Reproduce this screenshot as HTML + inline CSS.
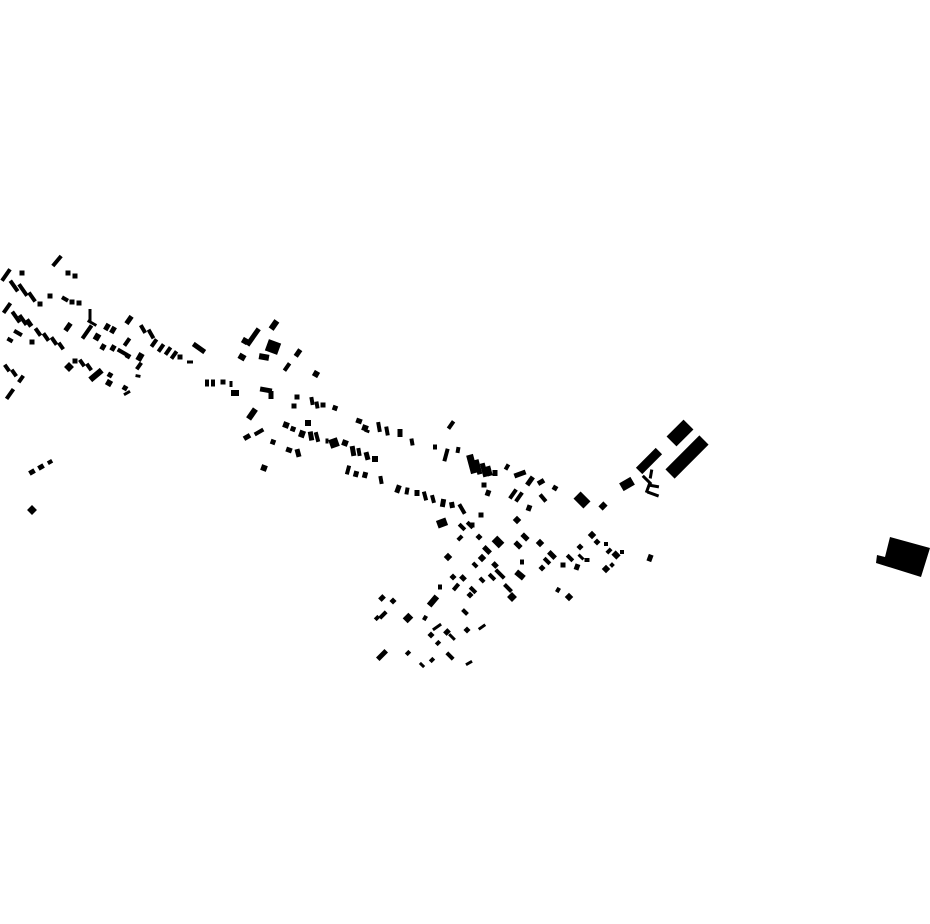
<!DOCTYPE html>
<html><head><meta charset="utf-8"><style>
html,body{margin:0;padding:0;background:#fff;width:930px;height:924px;overflow:hidden}
svg{display:block}
</style></head><body>
<svg id="m" width="930" height="924" viewBox="0 0 930 924" xmlns="http://www.w3.org/2000/svg">
<polygon points="890,537 930,548 921,577 876,563 877,555 885,557" fill="#000"/>
<g id="g" fill="#000"></g>
</svg>
<script>
var L=[
[57,261,4,13,40],[68,273,5,5,0],[75,276,5,5,0],[6,275,4,14,35],[22,273,5,5,0],
[14,286,4,13,-35],[23,290,4,14,-35],[32,297,4,11,-35],[40,304,5,5,0],[50,296,5,5,0],[65,299,7,4,30],[72,302,5,5,0],[79,303,5,5,0],
[7,308,4,12,35],[16,317,4,13,-35],[23,320,4,12,-35],[29,323,5,8,-35],[18,333,4,9,-60],[10,340,4,6,-60],[32,342,5,5,0],[38,332,4,9,-35],[46,337,4,9,-35],[54,341,4,9,-35],[61,346,4,8,-35],
[68,327,5,9,35],[90,315,3,12,0],[92,323,10,3,30],[87,332,4,16,35],[107,327,5,7,30],[113,330,5,7,30],[97,337,6,7,30],[103,347,5,6,30],[113,348,5,6,30],[122,352,10,4,30],[128,356,5,5,30],[140,357,6,8,30],[129,320,5,9,35],[127,342,4,9,35],[143,329,4,9,-30],[151,334,4,10,-30],[154,343,4,9,35],[161,348,4,9,35],[168,351,4,9,35],[174,355,4,9,35],[180,357,5,5,0],[190,362,6,3,0],[199,348,14,5,35],
[75,361,5,5,0],[69,367,7,7,45],[82,363,4,8,-35],[89,367,4,8,-35],[96,375,6,15,50],[110,375,5,5,30],[109,383,6,6,30],[125,388,5,5,30],[138,376,5,3,10],[127,393,7,3,-30],[139,366,4,8,35],
[7,368,4,8,-35],[14,373,4,8,-35],[21,379,4,8,35],[10,394,4,12,35],
[32,472,6,5,-30],[41,467,6,5,-30],[50,462,5,4,-30],[32,510,7,7,45],
[207,383,4,7,0],[213,383,4,7,0],[223,382,5,5,0],[231,384,3,6,0],[235,393,8,6,0],
[253,337,5,20,35],[274,325,6,10,35],[245,341,6,6,30],[273,347,13,12,20],[264,357,10,6,10],[242,357,7,6,30],[287,367,4,9,35],[298,353,5,8,35],[316,374,6,6,30],
[266,390,12,5,10],[271,395,5,8,0],[252,414,6,12,35],[259,432,10,4,-30],[247,437,7,5,-30],[273,442,5,5,20],[264,468,6,6,20],
[297,397,5,5,0],[294,406,5,5,0],[312,401,4,8,-10],[317,405,4,7,-10],[323,405,5,5,0],[335,408,5,5,20],
[286,425,6,6,20],[293,429,5,5,20],[302,434,6,7,20],[308,423,6,6,0],[311,436,5,9,-10],[317,437,4,10,-15],[327,441,3,5,0],[334,443,9,9,-20],[345,443,6,6,20],[353,451,5,10,-10],[359,452,4,8,-10],[367,456,5,8,-15],[375,459,6,6,0],
[289,450,6,5,20],[298,453,5,8,-15],
[359,421,6,5,20],[365,428,6,6,20],[367,431,5,3,20],[379,427,4,10,-10],[387,431,4,9,-10],[400,433,5,8,0],[412,442,4,7,-10],
[451,425,4,9,35],[435,447,4,5,0],[446,455,4,13,15],[458,450,4,6,10],
[472,464,7,19,-15],[478,467,5,15,-15],[484,470,5,14,-15],[489,471,5,10,-15],[495,473,5,6,0],[507,467,4,6,30],[520,474,12,5,-20],[530,481,5,10,35],[541,482,7,5,-30],[555,488,5,5,30],
[348,470,4,9,15],[356,474,5,6,15],[365,475,5,6,15],[381,480,4,8,-10],
[398,489,5,8,20],[407,491,4,7,10],[417,493,5,6,0],[425,496,4,9,-15],[433,499,4,8,-15],[443,503,5,8,10],[452,505,5,6,-10],[462,509,4,11,-30],
[484,485,5,5,0],[488,493,5,6,20],[513,494,4,11,35],[519,497,4,11,35],[543,498,4,9,-40],[529,508,5,6,20],[517,520,6,6,45],[481,515,5,5,0],[472,525,5,5,0],[442,523,10,8,-20],
[470,525,4,8,-45],[460,538,6,4,-45],[479,537,5,5,45],[462,527,4,8,-45],
[448,557,6,6,45],[487,550,5,9,-45],[498,542,8,10,-45],[482,558,6,6,45],[518,545,5,8,-45],[525,537,5,8,-45],[540,543,6,6,45],[552,555,5,9,-45],[547,561,4,8,-45],[542,568,5,5,45],[563,565,5,5,0],[577,567,5,6,20],[580,547,5,5,45],[570,558,4,8,-45],
[475,565,4,6,-45],[495,565,5,6,-45],[500,574,4,12,-45],[492,577,4,8,-45],[520,575,10,6,40],[522,562,4,5,0],[453,577,5,5,45],[463,578,5,6,-45],[482,580,4,6,-45],[456,587,4,8,40],[473,590,4,8,-45],[470,595,5,5,45],[508,588,4,10,-45],[512,597,7,7,45],
[433,601,6,12,40],[440,587,4,5,0],[558,590,4,5,30],[569,597,6,6,45],
[382,598,5,6,45],[393,601,5,5,45],[377,618,4,5,45],[383,615,4,9,45],[408,618,7,8,45],[425,618,4,5,30],[437,627,3,10,55],[447,632,5,6,45],[431,635,5,5,45],[438,643,4,5,45],[452,637,3,8,-45],[467,630,5,5,45],[465,612,4,7,-45],[482,627,3,8,55],
[382,655,5,12,45],[408,653,4,5,45],[450,656,4,9,-45],[432,660,4,5,45],[422,665,3,6,-45],[469,663,3,7,60],
[680,433,14,24,45],[687,457,13,48,45],[649,461,9,28,45],[627,484,9,13,60],[651,474,3,9,10],[654,486,10,3,10],[648,488,3,10,20],[653,494,12,3,20],[647,480,3,12,-45],
[582,500,10,14,-45],[603,506,6,7,45],
[592,535,6,6,45],[597,542,5,5,45],[606,544,4,4,0],[609,551,4,6,45],[616,555,7,6,45],[622,552,4,4,0],[606,569,6,6,45],[612,565,4,4,45],[650,558,5,7,20],[581,557,3,7,-45],[587,560,5,4,0]
];
var g=document.getElementById('g'),s='';
L.forEach(function(r){s+='<rect x="'+(-r[2]/2)+'" y="'+(-r[3]/2)+'" width="'+r[2]+'" height="'+r[3]+'" transform="translate('+r[0]+' '+r[1]+') rotate('+r[4]+')"/>';});
g.innerHTML=s;
</script>
</body></html>
